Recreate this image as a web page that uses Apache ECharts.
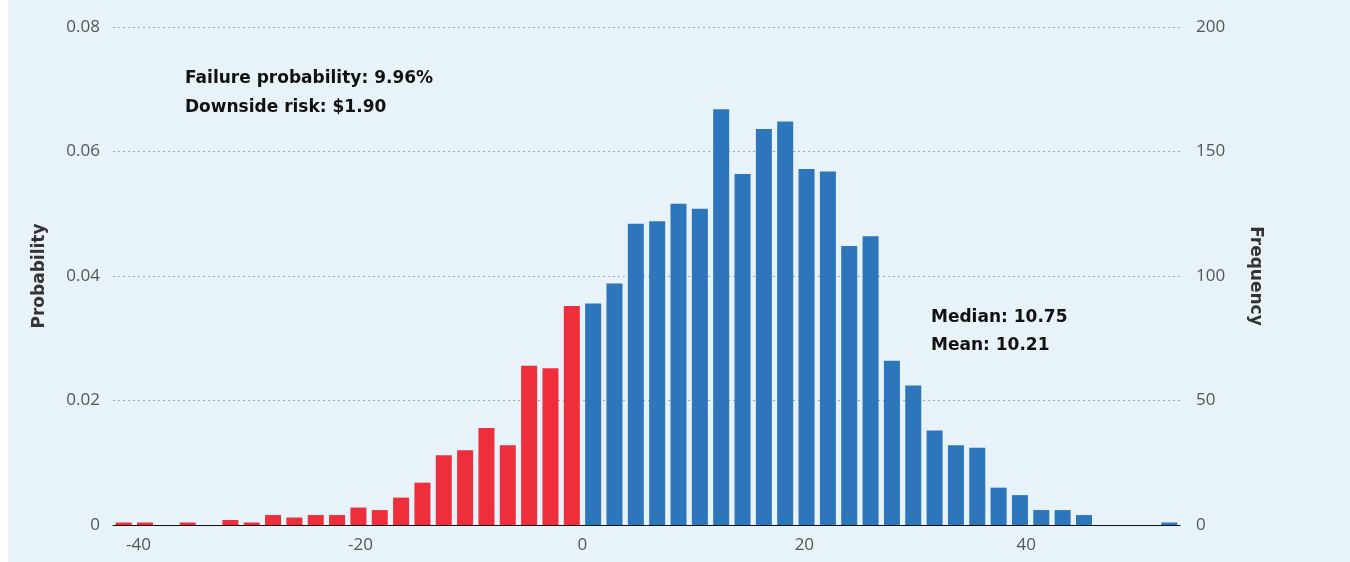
<!DOCTYPE html>
<html>
<head>
<meta charset="utf-8">
<title>Simulated outcome distribution</title>
<script src="https://cdn.jsdelivr.net/npm/echarts@6/dist/echarts.min.js"></script>
<style>
  html, body { margin: 0; padding: 0; background: #ffffff; }
  #chart { position: absolute; left: 8px; top: 0; width: 1342px; height: 562px; background: #e8f2f9; }
</style>
</head>
<body>
<div id="chart"></div>
<script>
// counts per bin (2500 trials in total)
const lossFreq = [1, 1, 0, 1, 0, 2, 1, 4, 3, 4, 4, 7, 6, 11, 17, 28, 30, 39, 32, 64, 63, 88];
const gainFreq = [89, 97, 121, 122, 129, 127, 167, 141, 159, 162, 143, 142, 112, 116,
  66, 56, 38, 32, 31, 15, 12, 6, 6, 4, 0, 0, 0, 1];
const xTickLabels = [-40, -20, 0, 20, 40];
const binStart = -42.3;
const binWidth = 1.923;

const topNotes = ["Failure probability: 9.96%", "Downside risk: $1.90"];
const sideNotes = ["Median: 10.75", "Mean: 10.21"];

const RED = "#ef2e3b";
const BLUE = "#2d76bb";
const AXIS_TEXT = "#555555";
const NOTE_FONT = 'bold 17px "DejaVu Sans"';

const binCount = lossFreq.length + gainFreq.length;
const categories = [];
for (let i = 0; i < binCount; i++) {
  const lo = binStart + i * binWidth;
  categories.push(lo.toFixed(2) + " to " + (lo + binWidth).toFixed(2));
}

const barData = lossFreq.map((v) => ({ value: v, itemStyle: { color: RED } }))
  .concat(gainFreq.map((v) => ({ value: v, itemStyle: { color: BLUE } })));

const chart = echarts.init(document.getElementById("chart"));

const noteText = (text, x, y) => ({
  type: "text",
  x: x,
  y: y,
  style: {
    text: text,
    font: NOTE_FONT,
    fill: "#111111",
    textVerticalAlign: "middle"
  }
});

const axisName = {
  color: "#333333",
  fontFamily: "DejaVu Sans",
  fontSize: 17,
  fontWeight: "bold"
};

chart.setOption({
  animation: false,
  textStyle: { fontFamily: "Open Sans" },
  grid: { left: 105, right: 170, top: 27, bottom: 37 },
  xAxis: [
    {
      type: "category",
      data: categories,
      axisLine: { lineStyle: { color: "#111111", width: 1 } },
      axisTick: { show: false },
      axisLabel: { show: false }
    },
    {
      type: "value",
      position: "bottom",
      min: binStart,
      max: binStart + binCount * binWidth,
      axisLine: { show: false },
      axisTick: { show: false },
      splitLine: { show: false },
      axisLabel: {
        customValues: xTickLabels,
        color: AXIS_TEXT,
        fontSize: 17,
        margin: 12
      }
    }
  ],
  yAxis: [
    {
      type: "value",
      min: 0,
      max: 0.08,
      interval: 0.02,
      name: "Probability",
      nameLocation: "middle",
      nameGap: 65,
      nameTextStyle: axisName,
      axisLine: { show: false },
      axisTick: { show: false },
      axisLabel: { color: AXIS_TEXT, fontSize: 17, margin: 13 },
      splitLine: { lineStyle: { color: "#a6a6a6", type: [2, 3], width: 1 } }
    },
    {
      type: "value",
      min: 0,
      max: 200,
      interval: 50,
      name: "Frequency",
      nameLocation: "middle",
      nameGap: 67,
      nameRotate: -90,
      nameTextStyle: axisName,
      axisLine: { show: false },
      axisTick: { show: false },
      axisLabel: { color: AXIS_TEXT, fontSize: 17, margin: 16 },
      splitLine: { show: false }
    }
  ],
  series: [
    {
      type: "bar",
      xAxisIndex: 0,
      yAxisIndex: 1,
      data: barData,
      barCategoryGap: "25%"
    }
  ],
  graphic: [
    noteText(topNotes[0], 177, 79),
    noteText(topNotes[1], 177, 108),
    noteText(sideNotes[0], 923, 318),
    noteText(sideNotes[1], 923, 346)
  ]
});
</script>
</body>
</html>
